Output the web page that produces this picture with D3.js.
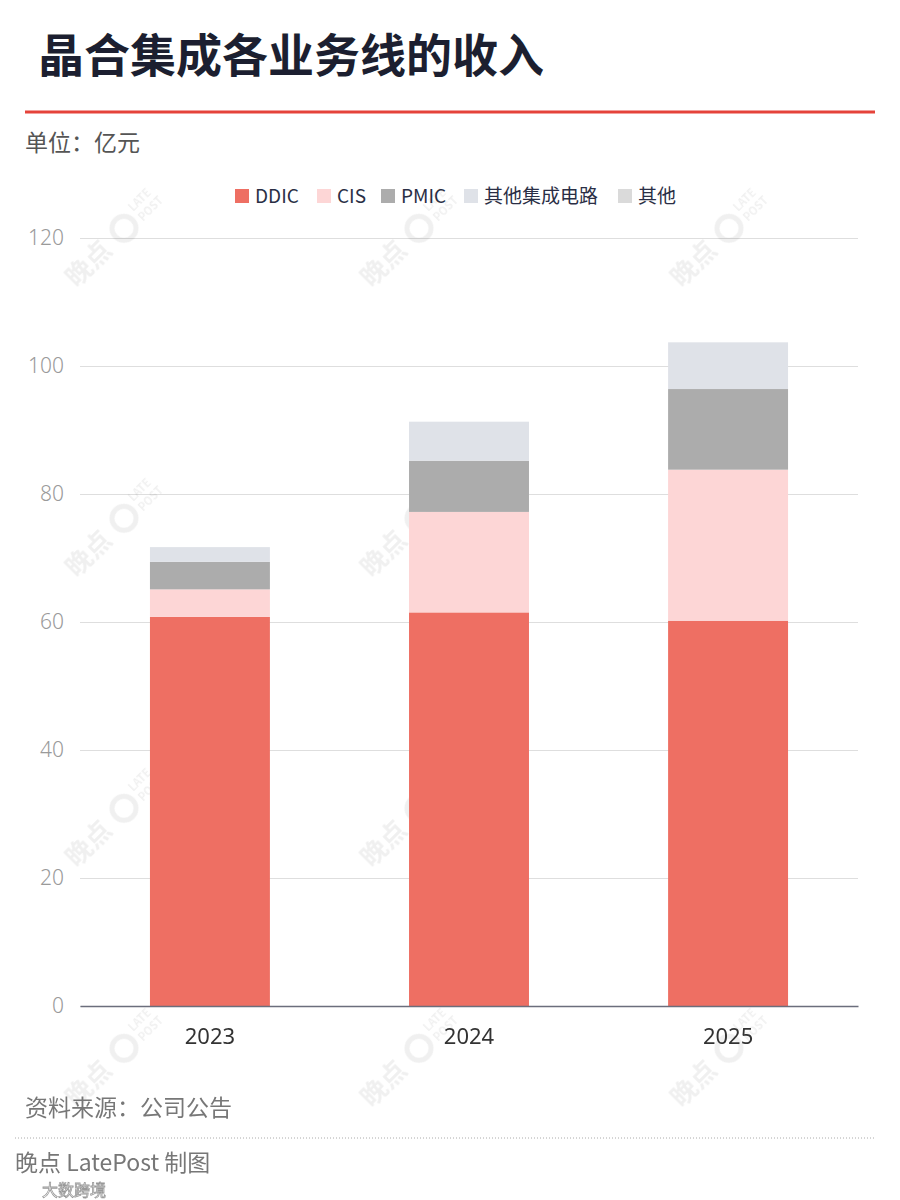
<!DOCTYPE html>
<html>
<head>
<meta charset="utf-8">
<script src="https://cdn.jsdelivr.net/npm/d3@7"></script>
<style>
  body { margin: 0; background: #fff; }
  svg { display: block; font-family: "Noto Sans CJK SC", "Noto Sans", sans-serif; }
</style>
</head>
<body>
<svg id="chart" width="900" height="1200"></svg>
<script>
// data (亿元)
var years = ["2023", "2024", "2025"];
var seriesNames = ["DDIC", "CIS", "PMIC", "其他集成电路", "其他"];
var ddic = [60.8, 61.5, 60.2];
var cis = [4.3, 15.7, 23.6];
var pmic = [4.3, 8.0, 12.6];
var otherIc = [2.3, 6.1, 7.3];
var other = [0, 0, 0];
var yTicks = [0, 20, 40, 60, 80, 100, 120];

var colors = ["#ee6f63", "#fdd6d6", "#acacac", "#dfe2e8", "#dadada"];

var svg = d3.select("#chart");

// rows for the stack
var rows = years.map(function(y, i) {
  return { year: y, "DDIC": ddic[i], "CIS": cis[i], "PMIC": pmic[i], "其他集成电路": otherIc[i], "其他": other[i] };
});
var stacked = d3.stack().keys(seriesNames)(rows);

var x = d3.scaleBand().domain(years).range([80, 858]).paddingInner(0.537).paddingOuter(0.27);
var y = d3.scaleLinear().domain([0, 120]).range([1006, 238]);

// title + header
svg.append("text")
  .attr("x", 38).attr("y", 72)
  .attr("font-size", 46).attr("font-weight", 700)
  .attr("fill", "#1c1f30")
  .text("晶合集成各业务线的收入");

svg.append("line")
  .attr("x1", 25).attr("x2", 875).attr("y1", 112).attr("y2", 112)
  .attr("stroke", "#e5433a").attr("stroke-width", 3);

svg.append("text")
  .attr("x", 25).attr("y", 151)
  .attr("font-size", 23).attr("fill", "#555")
  .text("单位：亿元");

// legend
var legendX = [235, 317, 381, 464, 618];
var legend = svg.append("g").selectAll("g").data(seriesNames).join("g")
  .attr("transform", function(d, i) { return "translate(" + legendX[i] + ",189)"; });
legend.append("rect").attr("width", 14).attr("height", 14)
  .attr("fill", function(d, i) { return colors[i]; });
legend.append("text")
  .attr("x", 20).attr("y", 14)
  .attr("font-size", 19).attr("fill", "#2a2e45")
  .text(function(d) { return d; });

// grid + y labels
var yAxis = svg.append("g")
  .attr("transform", "translate(80,0)")
  .call(d3.axisLeft(y).tickValues(yTicks).tickSize(-778).tickPadding(16));
yAxis.select(".domain").remove();
yAxis.selectAll(".tick line").attr("stroke", "#dedede").attr("stroke-width", 1);
yAxis.selectAll(".tick text")
  .attr("font-size", 21).attr("fill", "#9a9a9a").attr("font-weight", 300)
  .attr("font-family", "\"Noto Sans\", sans-serif");

// watermarks (faint)
var wmX = [95, 390, 700];
var wmY = [270, 560, 850, 1090];
var wm = svg.append("g").attr("opacity", 0.06);
wmY.forEach(function(wy) {
  wmX.forEach(function(wx) {
    var g = wm.append("g").attr("transform", "translate(" + wx + "," + wy + ") rotate(-45)");
    g.append("text").attr("font-size", 26).attr("font-weight", 700).attr("fill", "#000")
      .attr("text-anchor", "middle").text("晚点");
    g.append("circle").attr("cx", 50).attr("cy", -9).attr("r", 12)
      .attr("fill", "none").attr("stroke", "#000").attr("stroke-width", 5);
    g.append("text").attr("x", 68).attr("y", -14).attr("font-size", 11).attr("font-weight", 700)
      .attr("fill", "#000").text("LATE");
    g.append("text").attr("x", 68).attr("y", 0).attr("font-size", 11).attr("font-weight", 700)
      .attr("fill", "#000").text("POST");
  });
});

// bars
svg.append("g").selectAll("g").data(stacked).join("g")
  .attr("fill", function(d, i) { return colors[i]; })
  .selectAll("rect").data(function(d) { return d; }).join("rect")
  .attr("x", function(d) { return x(d.data.year); })
  .attr("width", x.bandwidth())
  .attr("y", function(d) { return y(d[1]); })
  .attr("height", function(d) { return y(d[0]) - y(d[1]); });

// x axis
var xAxis = svg.append("g")
  .attr("transform", "translate(0,1006)")
  .call(d3.axisBottom(x).tickSize(0).tickPadding(22));
xAxis.select(".domain").attr("stroke", "#6b6e7c").attr("stroke-width", 1.5);
xAxis.selectAll(".tick text")
  .attr("font-size", 22).attr("fill", "#333")
  .attr("font-family", "\"Noto Sans\", sans-serif");

// footer
svg.append("text")
  .attr("x", 25).attr("y", 1116)
  .attr("font-size", 23).attr("fill", "#777")
  .text("资料来源：公司公告");

svg.append("line")
  .attr("x1", 15).attr("x2", 875).attr("y1", 1138).attr("y2", 1138)
  .attr("stroke", "#aaa").attr("stroke-width", 1).attr("stroke-dasharray", "1,2");

svg.append("text")
  .attr("x", 15).attr("y", 1171)
  .attr("font-size", 23).attr("fill", "#777")
  .text("晚点 LatePost 制图");

svg.append("text")
  .attr("x", 42).attr("y", 1196)
  .attr("font-size", 16).attr("fill", "#fff")
  .attr("stroke", "#999").attr("stroke-width", 0.8)
  .text("大数跨境");
</script>
</body>
</html>
